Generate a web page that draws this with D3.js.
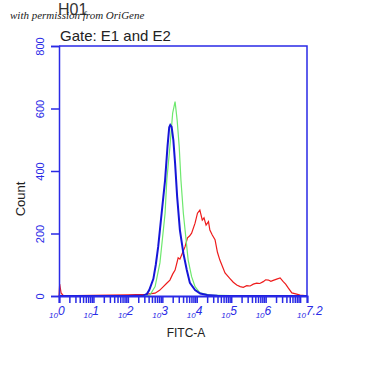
<!DOCTYPE html>
<html><head><meta charset="utf-8">
<script src="https://cdn.jsdelivr.net/npm/d3@7"></script>
<style>body{margin:0;background:#fff}svg{display:block}</style>
</head><body>
<script>
// log10(FITC-A) positions and counts for each histogram
const blueLog = [0,1,2,2.45,2.55,2.62,2.74,2.81,2.88,2.98,3.08,3.15,3.20,3.23,3.27,3.32,3.37,3.43,3.51,3.61,3.71,3.80,3.95,4.1,4.3,4.6,5.0,7.2];
const blueCnt = [0,0,0,2,6,19,55,100,158,265,371,478,540,547,541,499,425,318,211,137,83,42,19,8,3,1,0,0];
const greenLog = [2.5,2.64,2.79,2.93,3.08,3.13,3.22,3.30,3.37,3.43,3.49,3.54,3.61,3.69,3.75,3.85,3.95,4.09,4.38,4.97,5.2];
const greenCnt = [0,3,30,106,265,371,478,585,622,563,478,371,265,179,115,62,30,10,3,1,0];
const redLog = [0,0.02,0.06,0.12,0.5,1.0,1.5,2.0,2.5,2.79,2.92,3.03,3.12,3.22,3.30,3.37,3.46,3.51,3.56,3.66,3.73,3.79,3.85,3.95,4.02,4.09,4.16,4.21,4.27,4.34,4.38,4.45,4.53,4.60,4.67,4.82,4.97,5.06,5.16,5.26,5.35,5.45,5.55,5.64,5.74,5.83,5.93,6.00,6.08,6.15,6.22,6.32,6.42,6.51,6.58,6.66,6.76,6.90,7.0,7.14];
const redCnt = [0,38,10,2,1,2,3,4,5,9,18,30,40,51,70,83,122,118,131,158,186,192,201,233,265,275,243,250,227,238,211,195,180,140,115,74,55,44,35,30,28,33,32,38,41,40,46,52,51,47,50,54,58,46,38,25,10,6,3,1];
const yTicks = [0,200,400,600,800];
const xMajor = [0,1,2,3,4,5,6];
const xLabels = ["0","1","2","3","4","5","6"];
const xMax = 7.2, xMaxLabel = "7.2";

const W = 369, H = 384;
const svg = d3.select("body").append("svg").attr("width", W).attr("height", H);
const x = d3.scaleLinear().domain([0, xMax]).range([59, 307]);
const y = d3.scaleLinear().domain([0, 800]).range([296, 46]);
const axisCol = "#2a2ae6";
const sans = "Arial, Liberation Sans, sans-serif";

// frame
svg.append("path").attr("d", `M${x(0)},${y(800)}H${x(xMax)}V${y(0)}`)
  .attr("fill","none").attr("stroke", axisCol).attr("stroke-width", 1.5);

// curves
const line = (xs, ys) => d3.line().x((d,i)=>x(xs[i])).y((d,i)=>y(ys[i]))(xs);
svg.append("path").attr("d", line(redLog, redCnt)).attr("fill","none").attr("stroke","#ee1c1c").attr("stroke-width",1.2);
svg.append("path").attr("d", line(greenLog, greenCnt)).attr("fill","none").attr("stroke","#6ee86e").attr("stroke-width",1.2);
svg.append("path").attr("d", line(blueLog, blueCnt)).attr("fill","none").attr("stroke","#1616d8").attr("stroke-width",2);

// y axis
const yAxis = d3.axisLeft(y).tickValues(yTicks).tickSize(8).tickFormat(d3.format("d"));
const gy = svg.append("g").attr("transform", `translate(${x(0)},0)`).call(yAxis);
gy.select(".domain").attr("stroke", axisCol).attr("stroke-width", 1.5);
gy.selectAll(".tick line").attr("stroke", axisCol).attr("stroke-width", 1.5);
gy.selectAll(".tick text").attr("fill", axisCol).attr("font-family", sans)
  .attr("font-size", 11).attr("text-anchor","middle")
  .attr("transform", "translate(-19,0) rotate(-90)").attr("x", 0).attr("y", 0).attr("dy","0.35em");

// x axis ticks (log minor ticks)
const xt = [];
for (let dcd = 0; dcd <= 7; dcd++) for (let k = 1; k <= 9; k++) { const v = dcd + Math.log10(k); if (v <= xMax + 1e-9) xt.push(v); }
xt.push(xMax);
const xAxis = d3.axisBottom(x).tickValues(xt).tickSize(7).tickFormat("");
const gx = svg.append("g").attr("transform", `translate(0,${y(0)})`).call(xAxis);
gx.select(".domain").attr("stroke", axisCol).attr("stroke-width", 2);
gx.selectAll(".tick line").attr("stroke", axisCol).attr("stroke-width", 1.5);

// x labels
const labs = xMajor.map((v,i)=>({v, e:xLabels[i]})).concat([{v:xMax, e:xMaxLabel}]);
labs.forEach(l => {
  const t = svg.append("text").attr("x", x(l.v) - 10).attr("y", 318).attr("fill", axisCol)
    .attr("font-family", sans).attr("font-style","italic");
  t.append("tspan").attr("font-size", 8).text("10");
  t.append("tspan").attr("font-size", 12).attr("dy", -3).text(l.e);
});

// titles
svg.append("text").attr("x", 186).attr("y", 337).attr("text-anchor","middle").attr("font-family", sans)
  .attr("font-size", 12).attr("fill","#222").text("FITC-A");
svg.append("text").attr("transform","translate(25,199) rotate(-90)").attr("text-anchor","middle")
  .attr("font-family", sans).attr("font-size", 13).attr("fill","#222").text("Count");
svg.append("text").attr("x", 58).attr("y", 15).attr("font-family", sans).attr("font-size", 16).attr("fill","#333").text("H01");
svg.append("text").attr("x", 60).attr("y", 41).attr("font-family", sans).attr("font-size", 15).attr("fill","#222").text("Gate: E1 and E2");
svg.append("text").attr("x", 10).attr("y", 19).attr("font-family","Liberation Serif, serif").attr("font-style","italic")
  .attr("font-size", 11).attr("fill","#222").text("with permission from OriGene");
</script>
</body></html>
